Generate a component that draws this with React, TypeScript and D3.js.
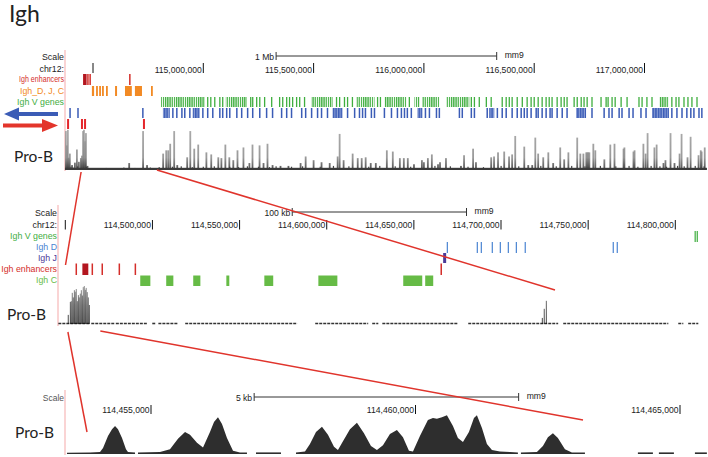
import React from "react";
import * as d3 from "d3";

// ---------------- data ----------------
const titleText = "Igh";
const sampleLabel = "Pro-B";
const assembly = "mm9";
const chromLabel = "chr12:";

// Panel 1 (whole locus, Mb)
const p1Ticks = [114.5, 115.0, 115.5, 116.0, 116.5, 117.0];
const p1TickLabels = ["", "115,000,000", "115,500,000", "116,000,000", "116,500,000", "117,000,000"];
const p1ScaleBar = [115.33, 116.33];
const p1ScaleText = "1 Mb";
const p1TrackLabels = ["Igh enhancers", "Igh_D, J, C", "Igh V genes"];
const p1EnhBlocks = [[114.455, 114.471]];
const p1EnhMarks = [114.477, 114.487, 114.667];
const p1DJCBlocks = [[114.495, 114.505], [114.600, 114.609], [114.645, 114.676], [114.690, 114.722]];
const p1DJCMarks = [114.518, 114.532, 114.545, 114.563, 114.767];
const p1VBlocks = [[114.808, 115.007], [115.102, 115.197], [115.491, 115.586], [115.695, 115.776], [115.821, 115.921], [115.957, 115.980], [115.993, 116.070], [116.102, 116.206], [117.066, 117.111]];
const p1VMarks = [115.020, 115.034, 115.052, 115.075, 115.088, 115.215, 115.224, 115.242, 115.256, 115.278, 115.310, 115.346, 115.360, 115.378, 115.391, 115.405, 115.423, 115.437, 115.459, 115.604, 115.618, 115.640, 115.654, 115.676, 115.790, 115.803, 115.934, 116.215, 116.229, 116.251, 116.283, 116.305, 116.355, 116.373, 116.387, 116.400, 116.423, 116.446, 116.468, 116.486, 116.500, 116.518, 116.536, 116.554, 116.568, 116.581, 116.604, 116.622, 116.636, 116.649, 116.681, 116.695, 116.713, 116.726, 116.740, 116.762, 116.803, 116.826, 116.835, 116.853, 116.867, 116.894, 116.921, 116.975, 116.989, 117.011, 117.034, 117.124, 117.143, 117.156, 117.179, 117.197, 117.215, 117.238];
const p1MinusBlocks = [[114.817, 114.848], [114.952, 114.984], [115.586, 115.631], [115.971, 115.993], [116.296, 116.319], [116.690, 116.735], [117.034, 117.111]];
const p1MinusMarks = [114.396, 114.432, 114.726, 114.862, 114.880, 114.903, 114.916, 114.939, 114.998, 115.020, 115.043, 115.075, 115.088, 115.106, 115.120, 115.152, 115.174, 115.201, 115.224, 115.256, 115.287, 115.314, 115.355, 115.378, 115.400, 115.446, 115.464, 115.491, 115.518, 115.536, 115.563, 115.654, 115.686, 115.708, 115.722, 115.735, 115.762, 115.776, 115.821, 115.853, 115.880, 115.898, 115.912, 115.925, 115.943, 116.007, 116.025, 116.057, 116.070, 116.161, 116.174, 116.215, 116.229, 116.287, 116.333, 116.355, 116.373, 116.400, 116.423, 116.441, 116.455, 116.468, 116.486, 116.509, 116.518, 116.536, 116.554, 116.572, 116.581, 116.604, 116.627, 116.649, 116.762, 116.817, 116.839, 116.853, 116.885, 116.898, 116.930, 116.948, 116.984, 117.007, 117.124, 117.147, 117.170, 117.192, 117.210, 117.224, 117.247, 117.260];
const p1PlusMarks = [114.387, 114.450, 114.464, 114.731];
const p1Peaks = [[114.377, 95], [114.382, 60], [114.386, 98], [114.390, 30], [114.395, 40], [114.405, 12], [114.418, 18], [114.427, 50], [114.436, 20], [114.445, 29], [114.450, 35], [114.455, 95], [114.459, 98], [114.464, 70], [114.468, 90], [114.475, 10], [114.664, 17], [114.727, 95], [114.745, 12], [114.818, 40], [114.832, 48], [114.841, 48], [114.850, 64], [114.868, 95], [114.882, 12], [114.927, 31], [114.941, 95], [114.959, 52], [114.977, 62], [115.014, 43], [115.036, 38], [115.068, 31], [115.082, 29], [115.100, 62], [115.118, 31], [115.136, 24], [115.155, 48], [115.182, 55], [115.209, 17], [115.223, 62], [115.255, 60], [115.273, 17], [115.291, 64], [115.314, 12], [115.350, 10], [115.386, 10], [115.441, 17], [115.464, 33], [115.500, 24], [115.536, 19], [115.573, 17], [115.609, 33], [115.618, 88], [115.636, 24], [115.677, 40], [115.700, 29], [115.718, 29], [115.736, 31], [115.759, 17], [115.782, 17], [115.832, 48], [115.859, 45], [115.891, 29], [115.909, 29], [115.927, 29], [115.955, 14], [115.991, 24], [116.000, 19], [116.018, 29], [116.036, 38], [116.064, 14], [116.073, 19], [116.100, 29], [116.168, 10], [116.182, 36], [116.223, 52], [116.236, 19], [116.305, 31], [116.318, 33], [116.336, 43], [116.364, 45], [116.386, 33], [116.400, 38], [116.414, 83], [116.455, 57], [116.473, 12], [116.491, 12], [116.505, 79], [116.518, 40], [116.541, 31], [116.564, 43], [116.586, 17], [116.618, 55], [116.636, 26], [116.655, 43], [116.695, 79], [116.709, 40], [116.723, 40], [116.736, 43], [116.741, 43], [116.745, 43], [116.750, 43], [116.768, 64], [116.777, 48], [116.818, 26], [116.845, 62], [116.864, 64], [116.905, 52], [116.909, 55], [116.950, 45], [116.955, 48], [116.995, 64], [117.005, 40], [117.014, 90], [117.045, 55], [117.055, 62], [117.086, 17], [117.095, 24], [117.118, 90], [117.136, 17], [117.159, 40], [117.168, 88], [117.195, 31], [117.209, 81], [117.245, 36], [117.255, 48], [117.259, 45], [117.273, 55]];
const p1Low = [[114.40, 8], [114.41, 6], [114.43, 9], [114.47, 8], [114.52, 4], [114.56, 5], [114.60, 4], [114.64, 6], [114.69, 5], [114.76, 6], [114.80, 7], [114.86, 8], [114.90, 9], [114.95, 7], [115.00, 8], [115.05, 9], [115.12, 8], [115.16, 7], [115.20, 9], [115.25, 8], [115.30, 7], [115.33, 9], [115.40, 8], [115.45, 9], [115.53, 8], [115.59, 10], [115.66, 9], [115.75, 8], [115.80, 10], [115.87, 9], [115.94, 8], [116.05, 10], [116.12, 9], [116.20, 8], [116.27, 7], [116.35, 10], [116.43, 9], [116.53, 10], [116.60, 9], [116.67, 10], [116.73, 9], [116.80, 10], [116.87, 9], [116.93, 10], [116.97, 8], [117.03, 10], [117.07, 9], [117.10, 8], [117.15, 10], [117.18, 9], [117.23, 10], [117.27, 9]];
const p1Extent = [114.373, 117.283];

// Panel 2 (Igh constant region, Mb)
const p2Ticks = [114.45, 114.5, 114.55, 114.6, 114.65, 114.7, 114.75, 114.8];
const p2TickLabels = ["", "114,500,000", "114,550,000", "114,600,000", "114,650,000", "114,700,000", "114,750,000", "114,800,000"];
const p2ScaleBar = [114.5802, 114.6802];
const p2ScaleText = "100 kb";
const p2TrackLabels = ["Igh V genes", "Igh D", "Igh J", "Igh enhancers", "Igh C"];
const p2VMarks = [114.8114, 114.8126];
const p2DMarks = [114.6692, 114.6864, 114.6887, 114.695, 114.6996, 114.7042, 114.7088, 114.7139, 114.7644, 114.7667];
const p2JBlocks = [[114.6668, 114.6683]];
const p2EnhBlocks = [[114.4598, 114.4632]];
const p2EnhMarks = [114.4563, 114.4655, 114.4712, 114.481, 114.4902, 114.6657];
const p2CBlocks = [[114.4930, 114.4988], [114.5079, 114.5120], [114.5234, 114.5275], [114.5424, 114.5441], [114.5642, 114.5693], [114.5952, 114.6061], [114.6439, 114.6548], [114.6565, 114.6611]];
const p2Coverage = [[114.446, 114.4643], [114.4649, 114.4787], [114.4790, 114.497], [114.4999, 114.5016], [114.5034, 114.5143], [114.5188, 114.5831], [114.5934, 114.6238], [114.6261, 114.6296], [114.6319, 114.6755], [114.6812, 114.7328], [114.7357, 114.796], [114.8017, 114.8046], [114.8074, 114.8132]];
const p2Spikes = [[114.4517, 24], [114.4529, 58], [114.4534, 60], [114.454, 82], [114.4546, 70], [114.4552, 89], [114.4557, 85], [114.4563, 92], [114.4569, 60], [114.4575, 76], [114.458, 70], [114.4586, 80], [114.4592, 89], [114.4598, 75], [114.4603, 97], [114.4609, 100], [114.4615, 90], [114.462, 95], [114.4626, 84], [114.4632, 70], [114.4638, 50], [114.7237, 16], [114.7248, 40], [114.726, 61]];

// Panel 3 (enhancer region, bp)
const p3Ticks = [114455000, 114460000, 114465000];
const p3TickLabels = ["114,455,000", "114,460,000", "114,465,000"];
const p3ScaleBar = [114456950, 114461950];
const p3ScaleText = "5 kb";
const p3Segments = [
  [[114453412, 3], [114453847, 4], [114454036, 5], [114454093, 15], [114454187, 45], [114454263, 62], [114454320, 70], [114454376, 62], [114454452, 40], [114454527, 12], [114454565, 5], [114454698, 4]],
  [[114454754, 4], [114455170, 5], [114455359, 12], [114455510, 38], [114455643, 55], [114455737, 48], [114455869, 28], [114455983, 16], [114456115, 55], [114456191, 80], [114456266, 92], [114456342, 75], [114456436, 40], [114456550, 8], [114456682, 4], [114456814, 4]],
  [[114456985, 4], [114457457, 4]],
  [[114457741, 4], [114457911, 6], [114458005, 25], [114458119, 55], [114458232, 68], [114458345, 48], [114458459, 18], [114458534, 10], [114458629, 32], [114458761, 62], [114458893, 78], [114459026, 52], [114459158, 20], [114459271, 10], [114459385, 22], [114459517, 50], [114459649, 60], [114459763, 42], [114459876, 8], [114459952, 6], [114460084, 45], [114460235, 85], [114460330, 90], [114460405, 88], [114460500, 92], [114460594, 97], [114460708, 70], [114460802, 40], [114460897, 30], [114461010, 55], [114461105, 90], [114461161, 97], [114461256, 65], [114461350, 25], [114461445, 10], [114461596, 6], [114461785, 5], [114461936, 4]],
  [[114461993, 4], [114462295, 5], [114462409, 20], [114462503, 42], [114462598, 52], [114462692, 40], [114462825, 12], [114462957, 4], [114463203, 4]],
  [[114464204, 4], [114464488, 4]],
  [[114464601, 4], [114464885, 4]],
  [[114465282, 4], [114465508, 4]],
];

// zoom guides: genomic start in upper panel
const guide1 = [114.446, 114.790];
const guide2 = [114.4515, 114.4701];

// ---------------- styles ----------------
const FONT = "'Liberation Sans', Arial, Helvetica, sans-serif";
const BIG = "Lato, 'Open Sans', sans-serif";
const C = {
  red: "#d42e2a",
  darkRed: "#b3161f",
  orange: "#f28a24",
  green: "#3fae3f",
  greenC: "#66bb46",
  blue: "#3b5cb6",
  lightBlue: "#4a84d2",
  purple: "#4a3a98",
  pink: "#f5a9a9",
  guide: "#e0342c",
};

export default function App() {
  const x1 = d3.scaleLinear().domain([114.5, 117.0]).range([93, 644.5]);
  const y1 = d3.scaleLinear().domain([0, 100]).range([170, 129]);
  const x2 = d3.scaleLinear().domain([114.45, 114.8]).range([65.3, 675.3]);
  const y2 = d3.scaleLinear().domain([0, 100]).range([324, 286]);
  const x3 = d3.scaleLinear().domain([114455000, 114465000]).range([151, 680]);
  const y3 = d3.scaleLinear().domain([0, 100]).range([454, 414]);

  const area3 = d3.area<number[]>().x((d) => x3(d[0])).y0(454).y1((d) => y3(d[1]));

  const marks = (xs: number[], sc: any, ya: number, yb: number, col: string, w: number, key: string) =>
    xs.map((p, i) => <rect key={key + i} x={sc(p) - w / 2} y={ya} width={w} height={yb - ya} fill={col} />);
  const blocks = (iv: number[][], sc: any, ya: number, yb: number, fill: string, key: string, minW = 1.5) =>
    iv.map((b, i) => {
      const a = sc(b[0]);
      const w = Math.max(sc(b[1]) - a, minW);
      return <rect key={key + i} x={a} y={ya} width={w} height={yb - ya} fill={fill} />;
    });

  const ticks = (vals: number[], labels: string[], sc: any, ya: number, yb: number, ty: number, key: string) =>
    vals.map((v, i) => (
      <g key={key + i}>
        <line x1={sc(v)} x2={sc(v)} y1={ya} y2={yb} stroke="#111" strokeWidth={1} />
        {labels[i] ? (
          <text x={sc(v) - 1.5} y={ty} textAnchor="end" fontSize={8.6} fontFamily={FONT} fill="#222">
            {labels[i]}
          </text>
        ) : null}
      </g>
    ));

  const scaleBar = (sb: number[], sc: any, y: number, label: string, key: string) => (
    <g key={key}>
      <line x1={sc(sb[0])} x2={sc(sb[1])} y1={y} y2={y} stroke="#333" strokeWidth={1} />
      <line x1={sc(sb[0])} x2={sc(sb[0])} y1={y - 4} y2={y + 4} stroke="#333" strokeWidth={1} />
      <line x1={sc(sb[1])} x2={sc(sb[1])} y1={y - 4} y2={y + 4} stroke="#333" strokeWidth={1} />
      <text x={sc(sb[0]) - 2} y={y + 3.5} textAnchor="end" fontSize={8.6} fontFamily={FONT} fill="#222">
        {label}
      </text>
      <text x={sc(sb[1]) + 8} y={y + 2} fontSize={8.6} fontFamily={FONT} fill="#222">
        {assembly}
      </text>
    </g>
  );

  const label = (txt: string, x: number, y: number, col: string, key: string, tl?: number) => (
    <text key={key} x={x} y={y} textAnchor="end" fontSize={8.8} fontFamily={FONT} fill={col}
      {...(tl ? { textLength: tl, lengthAdjust: "spacingAndGlyphs" } : {})}>
      {txt}
    </text>
  );

  const p1Colors = [C.red, C.orange, C.green];
  const p1LabelY = [82, 94, 105];
  const p2Colors = [C.green, C.lightBlue, C.purple, C.red, C.greenC];
  const p2LabelY = [239, 250, 261, 272, 283];

  return (
    <svg width={708} height={457} style={{ position: "absolute", left: 0, top: 0, background: "#fff" }}>
      <defs>
        <pattern id="stripeG" width={2.2} height={20} patternUnits="userSpaceOnUse">
          <rect x={0} y={0} width={1.3} height={20} fill={C.green} />
        </pattern>
        <pattern id="stripeB" width={2.6} height={20} patternUnits="userSpaceOnUse">
          <rect x={0} y={0} width={2.6} height={20} fill="#8fa2d8" />
          <rect x={0} y={0} width={1.5} height={20} fill={C.blue} />
        </pattern>
        <linearGradient id="barGrad" x1={0} y1={129} x2={0} y2={170} gradientUnits="userSpaceOnUse">
          <stop offset="0" stopColor="#9c9c9c" />
          <stop offset="0.7" stopColor="#888" />
          <stop offset="1" stopColor="#2e2e2e" />
        </linearGradient>
        <linearGradient id="spikeGrad" x1={0} y1={286} x2={0} y2={324} gradientUnits="userSpaceOnUse">
          <stop offset="0" stopColor="#777" />
          <stop offset="0.5" stopColor="#3a3a3a" />
          <stop offset="1" stopColor="#111" />
        </linearGradient>
      </defs>

      {/* title */}
      <text x={9} y={22} fontSize={23} fontFamily={BIG} fill="#222">{titleText}</text>

      {/* ---------- Panel 1 ---------- */}
      <line x1={65} x2={65} y1={50} y2={171} stroke={C.pink} strokeWidth={1} />
      {label("Scale", 64, 60, "#222", "s1")}
      {label(chromLabel, 64, 72, "#222", "c1")}
      {p1TrackLabels.map((t, i) => label(t, 64, p1LabelY[i], p1Colors[i], "l1" + i, i === 0 ? 45 : undefined))}
      {scaleBar(p1ScaleBar, x1, 56, p1ScaleText, "sb1")}
      {ticks(p1Ticks, p1TickLabels, x1, 63, 73, 73, "t1")}
      {blocks(p1EnhBlocks, x1, 74, 85, C.darkRed, "e1b")}
      {marks(p1EnhMarks, x1, 74, 85, C.red, 1.5, "e1m")}
      {blocks(p1DJCBlocks, x1, 86, 96, C.orange, "o1b")}
      {marks(p1DJCMarks, x1, 86, 96, C.orange, 1.8, "o1m")}
      {blocks(p1VBlocks, x1, 97, 107, "url(#stripeG)", "g1b")}
      {marks(p1VMarks, x1, 97, 107, C.green, 1.3, "g1m")}
      {blocks(p1MinusBlocks, x1, 108, 118, "url(#stripeB)", "b1b")}
      {marks(p1MinusMarks, x1, 108, 118, C.blue, 1.5, "b1m")}
      {marks(p1PlusMarks, x1, 119, 129, "#e4262b", 2, "r1m")}

      {/* strand arrows */}
      <g>
        <rect x={17} y={112} width={41} height={4} fill={C.blue} />
        <path d="M4,114 L19,107.5 L19,120.5 Z" fill={C.blue} />
        <rect x={3} y={123.5} width={41} height={4} fill="#e3352b" />
        <path d="M58,125.5 L42,119 L42,132 Z" fill="#e3352b" />
      </g>

      <text x={14} y={162} fontSize={15.5} fontFamily={BIG} fill="#222">{sampleLabel}</text>
      {p1Low.map((d, i) => (
        <rect key={"lw" + i} x={x1(d[0]) - 0.6} y={y1(d[1])} width={1.2} height={170 - y1(d[1])} fill="#444" />
      ))}
      {p1Peaks.map((d, i) => (
        <rect key={"pk" + i} x={x1(d[0]) - 0.9} y={y1(d[1])} width={1.8} height={170 - y1(d[1])} fill="url(#barGrad)" opacity={0.85} />
      ))}
      <rect x={x1(p1Extent[0])} y={167.8} width={x1(p1Extent[1]) - x1(p1Extent[0])} height={2.2} fill="#3a3a3a" />

      {/* ---------- Panel 2 ---------- */}
      <line x1={58} x2={58} y1={205} y2={326} stroke={C.pink} strokeWidth={1} />
      {label("Scale", 57, 216, "#222", "s2")}
      {label(chromLabel, 57, 228, "#222", "c2")}
      {p2TrackLabels.map((t, i) => label(t, 57, p2LabelY[i], p2Colors[i], "l2" + i))}
      {scaleBar(p2ScaleBar, x2, 212, p2ScaleText, "sb2")}
      {ticks(p2Ticks, p2TickLabels, x2, 220, 229.5, 228, "t2")}
      {marks(p2VMarks, x2, 231, 242, C.green, 1.2, "v2")}
      {marks(p2DMarks, x2, 242, 253, C.lightBlue, 1.2, "d2")}
      {blocks(p2JBlocks, x2, 253, 263, C.purple, "j2", 3)}
      {blocks(p2EnhBlocks, x2, 263.5, 275, C.darkRed, "e2b")}
      {marks(p2EnhMarks, x2, 263.5, 275, C.red, 1.5, "e2m")}
      {blocks(p2CBlocks, x2, 275.5, 286, C.greenC, "c2b")}
      <text x={7} y={320} fontSize={15.5} fontFamily={BIG} fill="#222">{sampleLabel}</text>
      {p2Coverage.map((s, i) => (
        <line key={"cv" + i} x1={x2(s[0])} x2={x2(s[1])} y1={323.5} y2={323.5} stroke="#333" strokeWidth={1.6} strokeDasharray="3 1" />
      ))}
      {p2Spikes.map((d, i) => (
        <line key={"sp" + i} x1={x2(d[0])} x2={x2(d[0])} y1={324} y2={y2(d[1])} stroke="url(#spikeGrad)" strokeWidth={0.8} />
      ))}

      {/* ---------- Panel 3 ---------- */}
      <line x1={65} x2={65} y1={390} y2={455} stroke={C.pink} strokeWidth={1} />
      <text x={64} y={401} textAnchor="end" fontSize={8.5} fontFamily={FONT} fill="#555">Scale</text>
      {scaleBar(p3ScaleBar, x3, 397, p3ScaleText, "sb3")}
      {ticks(p3Ticks, p3TickLabels, x3, 405, 414, 413, "t3")}
      <text x={15} y={438} fontSize={15.5} fontFamily={BIG} fill="#222">{sampleLabel}</text>
      {p3Segments.map((seg, i) => (
        <path key={"a3" + i} d={area3(seg as number[][]) || ""} fill="#2e2e2e" />
      ))}

      {/* ---------- zoom guides ---------- */}
      <line x1={x1(guide1[0])} y1={172} x2={65.5} y2={265} stroke={C.guide} strokeWidth={1.5} />
      <line x1={x1(guide1[1])} y1={170} x2={555} y2={290} stroke={C.guide} strokeWidth={1.5} />
      <line x1={x2(guide2[0])} y1={332} x2={87} y2={432} stroke={C.guide} strokeWidth={1.5} />
      <line x1={x2(guide2[1])} y1={331} x2={583} y2={420} stroke={C.guide} strokeWidth={1.5} />
    </svg>
  );
}
